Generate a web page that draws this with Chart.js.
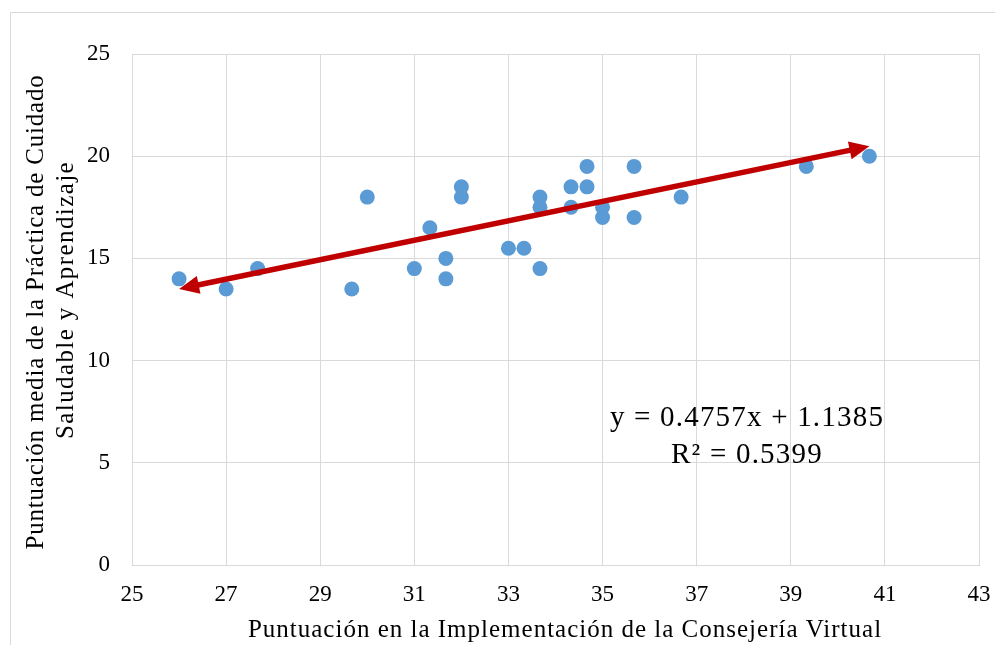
<!DOCTYPE html>
<html>
<head>
<meta charset="utf-8">
<script src="https://cdn.jsdelivr.net/npm/chart.js@4/dist/chart.umd.min.js"></script>
<style>
  html, body { margin: 0; padding: 0; background: #fff; }
  #wrap { width: 995px; height: 645px; position: relative; }
</style>
</head>
<body>
<div id="wrap"><canvas id="chart" width="995" height="645"></canvas></div>
<script>
// datos
const implementacion = [26, 27, 27.67, 29.67, 30, 31, 31.33, 31.67, 31.67, 32, 32, 33, 33.33, 33.67, 33.67, 33.67,
                        34.33, 34.33, 34.67, 34.67, 35, 35, 35.67, 35.67, 36.67, 39.33, 40.67];
const practica       = [14, 13.5, 14.5, 13.5, 18, 14.5, 16.5, 15, 14, 18.5, 18, 15.5, 15.5, 18, 17.5, 14.5,
                        18.5, 17.5, 19.5, 18.5, 17.5, 17, 19.5, 17, 18, 19.5, 20];
const pendiente = 0.4757, intercepto = 1.1385, r2 = 0.5399;
const xTicks = [25, 27, 29, 31, 33, 35, 37, 39, 41, 43];
const yTicks = [0, 5, 10, 15, 20, 25];
const tituloX = 'Puntuación en la Implementación de la Consejería Virtual';
const tituloY = ['Puntuación media de la Práctica de Cuidado', 'Saludable y Aprendizaje'];

const puntos = implementacion.map((x, i) => ({ x, y: practica[i] }));
const xMin = Math.min(...implementacion), xMax = Math.max(...implementacion);
const tendencia = [xMin, xMax].map(x => ({ x, y: pendiente * x + intercepto }));

const SERIF = "'Liberation Serif', 'Times New Roman', serif";
const ROJO = '#C00000';

/* ---- marco, títulos, ecuación y flechas ---- */
const extras = {
  id: 'extras',
  beforeDraw(chart) {
    const ctx = chart.ctx;
    ctx.save();
    ctx.strokeStyle = '#d9d9d9';
    ctx.lineWidth = 1;
    ctx.beginPath();
    ctx.moveTo(10.5, 700); ctx.lineTo(10.5, 12.5); ctx.lineTo(1000, 12.5);
    ctx.stroke();
    ctx.restore();
  },
  afterDatasetsDraw(chart) {
    const ctx = chart.ctx;
    const pts = chart.getDatasetMeta(0).data;
    const a = { x: pts[0].x, y: pts[0].y }, b = { x: pts[1].x, y: pts[1].y };
    const ang = Math.atan2(b.y - a.y, b.x - a.x);
    const L = 20, W = 9;
    ctx.save();
    ctx.strokeStyle = ROJO; ctx.fillStyle = ROJO;
    ctx.lineWidth = 5.5;
    ctx.beginPath();
    ctx.moveTo(a.x + Math.cos(ang) * (L - 2), a.y + Math.sin(ang) * (L - 2));
    ctx.lineTo(b.x - Math.cos(ang) * (L - 2), b.y - Math.sin(ang) * (L - 2));
    ctx.stroke();
    function punta(p, dir) {
      const bx = p.x - Math.cos(dir) * L, by = p.y - Math.sin(dir) * L;
      ctx.beginPath();
      ctx.moveTo(p.x, p.y);
      ctx.lineTo(bx + Math.sin(dir) * W, by - Math.cos(dir) * W);
      ctx.lineTo(bx - Math.sin(dir) * W, by + Math.cos(dir) * W);
      ctx.closePath();
      ctx.fill();
    }
    punta(b, ang);
    punta(a, ang + Math.PI);
    ctx.restore();
  },
  afterDraw(chart) {
    const ctx = chart.ctx;
    ctx.save();
    ctx.fillStyle = '#000';
    ctx.textAlign = 'center';
    ctx.textBaseline = 'alphabetic';
    // ecuación
    ctx.font = '29px ' + SERIF;
    ctx.letterSpacing = '1.2px';
    ctx.fillText('y = ' + pendiente + 'x + ' + intercepto, 747, 426);
    ctx.fillText('R² = ' + r2, 747, 463);
    // título eje X
    ctx.font = '25px ' + SERIF;
    ctx.letterSpacing = '1px';
    ctx.fillText(tituloX, 565, 637);
    // título eje Y
    ctx.save();
    ctx.translate(43, 312); ctx.rotate(-Math.PI / 2);
    ctx.letterSpacing = '0.8px';
    ctx.fillText(tituloY[0], 0, 0);
    ctx.restore();
    ctx.save();
    ctx.translate(73, 300); ctx.rotate(-Math.PI / 2);
    ctx.letterSpacing = '1.4px';
    ctx.fillText(tituloY[1], 0, 0);
    ctx.restore();
    ctx.restore();
  }
};

new Chart(document.getElementById('chart'), {
  type: 'scatter',
  data: {
    datasets: [
      { label: 'Tendencia', type: 'line', data: tendencia, borderWidth: 0, pointRadius: 0, showLine: false, order: 0 },
      { label: 'Datos', data: puntos, backgroundColor: '#5B9BD5', borderColor: '#5B9BD5',
        pointRadius: 7.5, pointHoverRadius: 7.5, borderWidth: 0, order: 1 }
    ]
  },
  options: {
    responsive: false,
    animation: false,
    events: [],
    layout: { padding: { left: 0, top: 54, right: 16, bottom: 0 } },
    plugins: { legend: { display: false }, tooltip: { enabled: false } },
    scales: {
      x: {
        type: 'linear', min: xTicks[0], max: xTicks[xTicks.length - 1],
        afterBuildTicks: s => { s.ticks = xTicks.map(v => ({ value: v })); },
        afterFit: s => { s.height = 80; s.paddingLeft = 0; s.paddingRight = 0; },
        grid: { color: '#d9d9d9', lineWidth: 1, drawTicks: false },
        border: { color: '#d9d9d9' },
        ticks: { color: '#000', font: { family: SERIF, size: 23 }, padding: 16, maxRotation: 0 }
      },
      y: {
        type: 'linear', min: yTicks[0], max: yTicks[yTicks.length - 1],
        afterBuildTicks: s => { s.ticks = yTicks.map(v => ({ value: v })); },
        afterFit: s => { s.width = 132; s.paddingTop = 0; s.paddingBottom = 0; },
        grid: { color: '#d9d9d9', lineWidth: 1, drawTicks: false },
        border: { color: '#d9d9d9' },
        ticks: { color: '#000', font: { family: SERIF, size: 23 }, padding: 22 }
      }
    }
  },
  plugins: [extras]
});
</script>
</body>
</html>
